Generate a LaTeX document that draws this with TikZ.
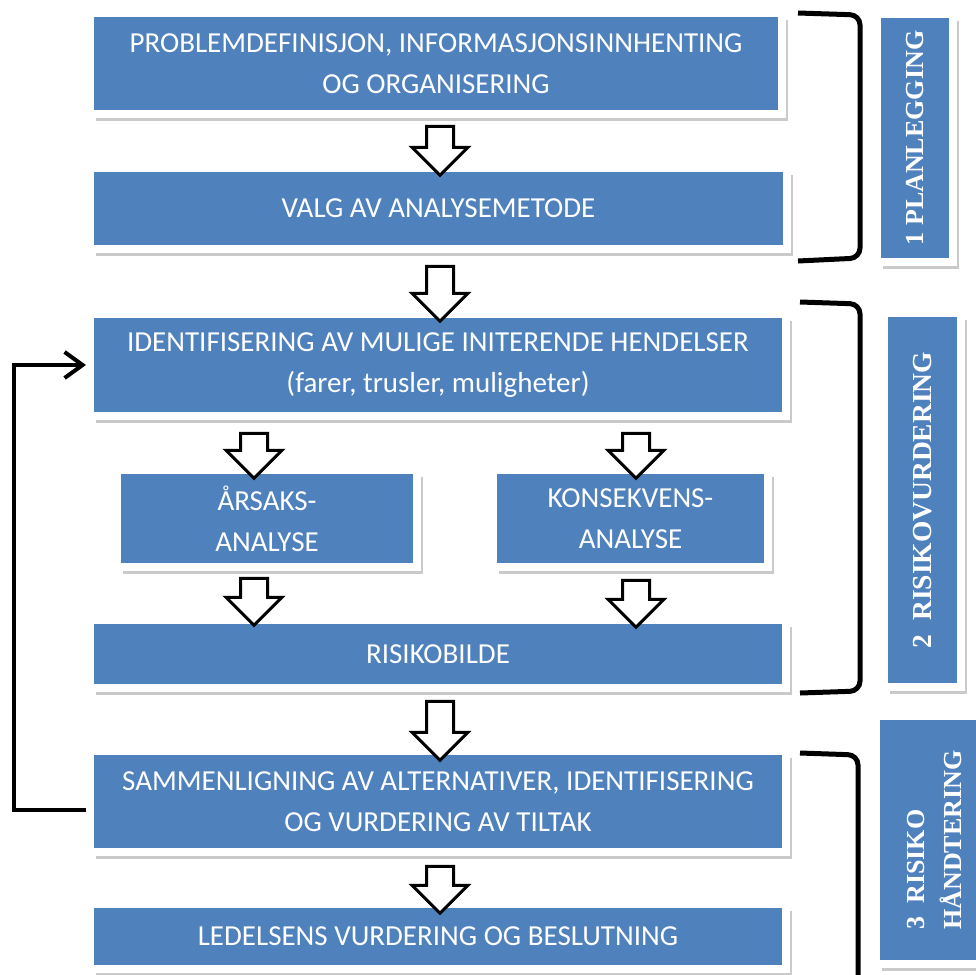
\documentclass[tikz,border=0pt]{standalone}
\usepackage{fontspec}
\setmainfont{Carlito}
\newfontfamily\phasefont{Liberation Serif}
\usetikzlibrary{shapes.arrows,shadows,arrows.meta}
\definecolor{boxblue}{RGB}{79,129,189}
\tikzset{
  stepbox/.style={draw=white, line width=8pt, fill=boxblue, text=white, align=center,
    inner sep=0pt, font=\fontsize{29}{41}\selectfont,
    drop shadow={shadow xshift=6pt, shadow yshift=-7pt, opacity=0.35, fill=black!60}},
  phasebox/.style={stepbox, font={\phasefont\bfseries\fontsize{26}{37}\selectfont}},
  flow/.style={single arrow, draw=black, fill=white, line width=3pt, rotate=-90,
    inner sep=12pt, single arrow head extend=14.5pt},
  bracket/.style={line width=5pt, rounded corners=10pt},
  feedback/.style={line width=4pt, -{Straight Barb[length=18pt,width=26pt]}}
}
\begin{document}
\begin{tikzpicture}[x=1pt, y=-1pt]
            \useasboundingbox (0,0) rectangle (976,974);

            \node[stepbox, minimum width=692, minimum height=101] (prob) at (436,63.5) {PROBLEMDEFINISJON, INFORMASJONSINNHENTING\\OG ORGANISERING};
            \node[stepbox, minimum width=697, minimum height=81] (valg) at (438.5,208.5) {VALG AV ANALYSEMETODE};
            \node[stepbox, minimum width=696, minimum height=102] (ident) at (438,365) {IDENTIFISERING AV MULIGE INITERENDE HENDELSER\\(farer, trusler, muligheter)};
            \node[stepbox, minimum width=300, minimum height=97] (aarsak) at (267,518.5) {ÅRSAKS-\\ANALYSE};
            \node[stepbox, minimum width=275, minimum height=97] (konsek) at (630.5,518.5) {KONSEKVENS-\\ANALYSE};
            \node[stepbox, minimum width=696, minimum height=68] (bilde) at (438,654) {RISIKOBILDE};
            \node[stepbox, minimum width=696, minimum height=101] (samm) at (438,801.5) {SAMMENLIGNING AV ALTERNATIVER, IDENTIFISERING\\OG VURDERING AV TILTAK};
            \node[stepbox, minimum width=696, minimum height=65] (leder) at (438,936.5) {LEDELSENS VURDERING OG BESLUTNING};

            \node[phasebox, minimum width=76, minimum height=248] (plan) at (915,138) {\rotatebox{90}{1 PLANLEGGING}};
            \node[phasebox, minimum width=77, minimum height=374, font={\phasefont\bfseries\fontsize{27.5}{37}\selectfont}] (vurd) at (922.5,500) {\rotatebox{90}{2\ \ RISIKOVURDERING}};
            \node[phasebox, minimum width=120, minimum height=248] (handt) at (936,840) {\rotatebox{90}{\begin{tabular}{@{}l@{}}3\ \ RISIKO\\HÅNDTERING\end{tabular}}};

            \node[flow, minimum height=49] (a1) at (440,144) {};
            \node[flow, minimum height=55] (a2) at (440,287) {};
            \node[flow, minimum height=45] (a3) at (254,449) {};
            \node[flow, minimum height=45] (a4) at (636,449) {};
            \node[flow, minimum height=47] (a5) at (254,595) {};
            \node[flow, minimum height=47] (a6) at (636,597) {};
            \node[flow, minimum height=59] (a7) at (440,724) {};
            \node[flow, minimum height=47] (a8) at (440,883) {};

            \draw[bracket] (798,13) -- (860,15) -- (860,258) -- (798,261);
            \draw[bracket] (800,302) -- (860,304) -- (860,691) -- (800,693);
            \draw[bracket] (800,753) -- (858,755) -- (858,990);

            \draw[feedback] ([yshift=-8pt]samm.west) -- ++(-72,0) |- (ident.west);
        \end{tikzpicture}
\end{document}
